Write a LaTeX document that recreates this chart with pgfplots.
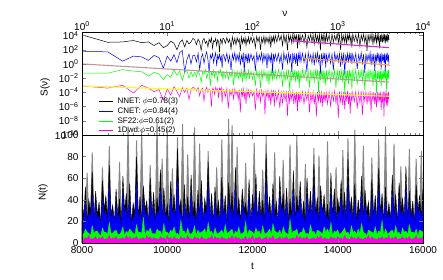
\documentclass[border=0pt]{standalone}
\usepackage{fontspec}
\setmainfont{Liberation Sans}
\usepackage{pgfplots}
\usepackage{pgfplotstable}
\pgfplotsset{compat=1.18}

\pgfplotstableread{
nu bk bl gr mg
1 4.1 1.8 -1.3 -3.1
2 3.05 1.7 -1.3 -3.4
3 3.1 0.4 -0.8 -3.0
4 3.3 1.1 -1.0 -4.1
5 3.0 1.0 -1.1 -3.0
6 3.1 0.5 -1.7 -3.4
7 2.6 1.2 -1.2 -3.9
8 3.0 0.9 -1.4 -3.6
9 2.3 -0.6 -2.2 -5.1
10 2.6 1.1 -1.5 -3.5
11 3.2 0.4 -1.9 -4.4
12 2.9 1.3 -0.8 -3.2
13 2.0 0.2 -1.6 -3.9
14 3.0 1.6 -1.0 -4.6
15 3.4 1.9 -2.3 -3.3
16 2.4 -1.1 -1.2 -4.0
17 3.3 0.6 -0.9 -3.4
18 2.8 1.4 -2.0 -5.0
19 3.1 0.0 -1.1 -3.6
20 3.6 1.2 -1.8 -3.3
21 3.4 1.2 -1.2 -3.4
22 2.7 0.3 -1.8 -3.8
23 3.5 1.5 -0.9 -3.3
24 3.1 -0.8 -1.5 -4.5
25 1.9 0.9 -2.6 -3.6
26 3.3 1.4 -1.1 -3.4
27 3.6 0.1 -1.4 -5.2
28 2.9 1.1 -0.8 -3.7
29 3.2 1.7 -2.0 -3.3
30 2.4 0.6 -1.3 -4.0
31 3.5 -1.2 -1.0 -3.5
32 3.0 1.3 -3.1 -3.9
33 3.7 0.8 -1.2 -6.0
34 2.2 1.5 -1.6 -3.4
35 3.3 0.2 -0.9 -3.6
36 3.1 1.0 -1.9 -4.3
37 3.6 1.6 -1.1 -3.3
38 2.6 -0.3 -1.4 -3.8
39 3.4 1.2 -2.4 -3.5
40 3.2 0.7 -1.0 -4.8
41 1.7 1.4 -1.3 -3.4
42 3.5 0.5 -0.8 -3.7
43 3.3 1.1 -1.7 -3.3
44 2.8 -0.6 -1.2 -5.5
45 3.6 1.3 -2.2 -3.6
46 3.6 1.3 -1.1 -3.6
48 2.9 0.4 -1.9 -4.6
50 3.7 1.5 -1.0 -3.5
52 3.0 0.2 -2.2 -6.3
54 3.5 1.2 -1.2 -3.7
56 2.1 -0.9 -1.8 -4.4
58 3.8 1.4 -0.9 -3.6
60 2.8 0.6 -3.0 -4.9
62 3.6 1.6 -1.1 -3.5
64 2.7 0.3 -1.9 -4.3
66 3.7 1.3 -1.0 -3.8
68 3.1 0.5 -2.1 -5.0
70 3.5 1.5 -1.2 -3.6
72 1.8 -0.2 -1.8 -6.8
74 3.8 1.2 -0.9 -3.7
76 2.9 0.4 -2.6 -4.5
78 3.6 1.6 -1.1 -3.5
80 3.0 -1.2 -1.9 -4.8
82 3.7 1.4 -1.0 -3.8
84 2.6 0.5 -2.3 -5.6
86 3.5 1.3 -1.2 -3.6
88 3.1 0.1 -1.7 -4.4
90 3.8 1.5 -0.9 -3.7
92 2.9 0.3 -2.0 -4.7
96 3.8 1.4 -1.0 -3.7
100 3.0 0.5 -2.2 -4.5
104 3.7 1.2 -1.1 -3.8
108 2.3 -1.0 -3.1 -6.5
112 3.9 1.5 -0.9 -3.6
116 3.1 0.4 -1.9 -4.9
120 3.8 1.3 -1.1 -3.8
124 2.0 0.6 -3.4 -5.3
128 3.7 1.6 -1.0 -3.7
132 3.0 0.2 -2.1 -4.6
136 3.9 1.4 -0.9 -3.9
140 2.8 0.5 -1.8 -7.1
144 3.8 1.3 -1.2 -3.8
148 3.1 -0.6 -2.4 -4.7
152 3.7 1.5 -1.0 -3.7
156 2.9 0.4 -2.9 -5.2
160 3.9 1.2 -1.1 -3.9
164 2.3 0.3 -1.9 -5.8
168 3.8 1.6 -0.9 -3.8
172 3.2 -1.3 -2.2 -4.6
176 3.9 1.4 -1.1 -3.7
180 3.0 0.5 -2.0 -6.0
185 4.0 1.4 -0.9 -3.9
193 3.1 0.4 -2.2 -5.2
201 4.1 1.5 -0.8 -3.8
209 3.3 0.2 -2.0 -6.2
217 4.0 1.3 -1.0 -4.0
225 2.6 -0.8 -3.2 -5.5
233 4.2 1.6 -0.9 -3.9
241 3.0 0.5 -2.4 -5.1
249 4.0 1.3 -1.0 -4.0
257 1.9 0.1 -2.1 -7.3
265 4.1 1.5 -0.8 -3.8
273 3.2 0.3 -3.8 -5.4
281 4.0 1.4 -1.0 -4.0
289 2.9 -1.2 -2.3 -5.0
297 4.2 1.6 -0.9 -3.9
305 3.1 0.4 -2.0 -5.7
313 4.1 1.3 -0.8 -4.1
321 3.4 0.0 -2.6 -5.3
329 4.0 1.5 -1.0 -3.9
337 2.2 -0.3 -2.2 -6.6
345 4.2 1.4 -0.9 -4.0
353 3.0 0.5 -3.4 -5.4
361 4.1 1.6 -1.0 -3.9
370 3.2 0.3 -2.3 -5.2
386 4.1 1.5 -0.8 -3.9
402 3.0 0.2 -2.0 -5.6
418 4.2 1.4 -1.0 -4.0
434 2.4 -1.1 -2.4 -5.1
450 4.0 1.6 -0.9 -3.8
466 3.3 0.5 -3.3 -6.8
482 4.2 1.3 -0.8 -4.0
498 3.1 0.1 -2.2 -5.3
514 4.1 1.5 -1.0 -3.9
530 2.8 -0.2 -2.5 -5.7
546 4.3 1.4 -0.9 -4.1
562 3.2 0.4 -2.0 -7.4
578 4.0 1.6 -0.8 -3.9
594 3.0 0.3 -4.0 -5.2
610 4.2 1.3 -1.0 -4.0
626 1.9 -1.4 -2.3 -5.5
642 4.1 1.5 -0.9 -3.8
658 3.3 0.2 -2.1 -6.0
674 4.2 1.4 -0.8 -4.0
690 3.0 0.5 -2.7 -5.4
706 4.0 1.6 -1.0 -3.9
722 3.1 -0.5 -3.0 -5.1
738 4.3 1.3 -0.9 -4.1
760 3.2 0.4 -2.2 -5.6
792 4.1 1.5 -0.8 -3.9
824 2.6 0.1 -2.5 -5.9
856 4.2 1.4 -1.0 -4.0
888 3.1 -0.9 -2.0 -5.2
920 4.0 1.6 -0.9 -3.8
952 3.3 0.5 -3.4 -5.5
984 4.3 1.3 -0.8 -4.0
1016 3.0 0.3 -2.3 -7.6
1048 4.1 1.5 -1.0 -3.9
1080 2.0 -0.4 -2.1 -5.3
1112 4.2 1.4 -0.9 -4.1
1144 3.2 0.2 -2.6 -5.8
1176 4.0 1.6 -0.8 -3.9
1208 3.0 -1.5 -4.2 -6.4
1240 4.2 1.3 -1.0 -4.0
1272 2.8 0.4 -2.2 -5.1
1304 4.1 1.5 -0.9 -3.8
1336 3.4 0.2 -2.8 -5.6
1368 4.3 1.4 -0.8 -4.1
1400 3.1 0.5 -2.0 -7.0
1432 4.0 1.6 -1.0 -3.9
1464 2.3 0.0 -3.6 -5.4
1500 4.2 1.4 -0.9 -4.0
1564 3.2 0.3 -2.3 -5.3
1628 4.1 1.5 -0.8 -3.9
1692 3.0 -0.7 -2.9 -6.3
1756 4.3 1.3 -1.0 -4.0
1820 2.5 0.4 -2.1 -5.5
1884 4.1 1.6 -0.9 -3.8
1948 3.3 0.1 -2.4 -7.2
2012 4.2 1.4 -0.8 -4.1
2076 3.0 -1.3 -3.7 -5.2
2140 4.0 1.5 -1.0 -3.9
2204 1.8 0.3 -2.2 -5.7
2268 4.2 1.3 -0.9 -4.0
2332 3.1 0.5 -2.5 -5.4
2396 4.1 1.6 -0.8 -3.8
2460 3.3 -0.2 -2.0 -6.8
2524 4.3 1.4 -1.0 -4.0
2588 2.7 0.2 -3.1 -5.3
2652 4.0 1.5 -0.9 -3.9
2716 3.2 -1.0 -2.3 -5.6
2780 4.2 1.3 -0.8 -4.1
2844 3.0 0.4 -4.1 -6.1
2908 4.1 1.6 -1.0 -3.9
2972 3.2 0.3 -2.2 -5.4
3036 4.2 1.5 -0.9 -4.0
3100 2.2 0.1 -2.4 -5.2
3164 4.1 1.4 -0.8 -3.9
3228 3.1 -0.8 -3.3 -6.5
3292 4.3 1.6 -1.0 -4.1
3356 3.0 0.4 -2.1 -5.5
3420 4.0 1.3 -0.9 -3.9
3484 3.3 0.2 -2.6 -7.4
3548 4.2 1.5 -0.8 -4.0
3612 2.9 -1.2 -2.0 -5.3
3676 4.1 1.4 -1.0 -3.8
3740 3.2 0.5 -3.9 -5.8
3804 4.3 1.6 -0.9 -4.1
3868 3.0 0.3 -2.3 -6.0
3932 4.1 1.3 -0.8 -3.9
3996 3.4 -0.3 -2.1 -5.0
}\topdata

\pgfplotstableread{
t gy bk bl gr mg
8000 20 45 32 10 6
8040 20 22 20 8 3
8080 20 52 38 13 5
8120 65 18 17 10 4
8160 20 40 27 9 7
8200 20 28 24 7 3
8240 84 66 44 16 4
8280 20 20 18 9 4
8320 20 48 35 11 6
8360 20 25 22 11 3
8400 20 38 25 8 5
8440 20 16 16 7 4
8480 70 58 41 14 6
8520 20 30 25 10 3
8560 20 44 30 10 4
8600 20 21 19 8 4
8640 90 72 52 19 7
8680 20 26 21 9 3
8720 20 35 28 9 5
8760 20 19 18 11 4
8800 20 50 36 12 6
8840 20 24 23 8 3
8880 75 41 26 8 4
8920 20 17 15 10 4
8960 20 62 47 15 5
9000 20 29 26 7 3
9040 20 46 33 11 7
9080 108 22 20 9 4
9120 20 55 39 13 6
9160 20 18 17 11 3
9200 20 37 24 9 5
9240 20 27 24 8 4
9280 95 80 55 17 6
9320 20 23 21 10 3
9360 20 43 31 10 4
9400 104 20 18 9 4
9440 20 53 40 24 5
9480 20 31 27 7 3
9520 20 39 27 12 7
9560 20 16 16 10 4
9600 72 60 43 14 6
9640 20 25 22 9 3
9680 20 47 34 9 5
9720 20 19 19 8 4
9760 112 42 29 13 4
9800 20 28 25 11 3
9840 20 68 49 11 6
9880 78 21 20 7 4
9920 20 51 37 18 5
9960 20 24 23 10 3
10000 106 36 26 10 7
10040 20 18 17 8 4
10080 20 57 45 12 5
10120 69 26 26 10 3
10160 20 45 32 15 6
10200 20 22 21 9 4
10240 98 88 58 9 4
10280 20 30 28 7 3
10320 20 40 28 21 6
10360 110 17 18 11 4
10400 20 54 38 11 5
10440 20 23 22 8 3
10480 82 43 30 14 7
10520 20 20 19 9 4
10560 20 63 46 8 4
10600 20 27 25 10 3
10640 107 38 25 16 6
10680 20 19 17 7 4
10720 20 49 36 12 5
10760 92 25 24 9 3
10800 20 58 42 10 6
10840 20 21 20 11 4
10880 20 41 29 13 4
10920 20 29 27 8 3
10960 85 75 53 19 5
11000 20 22 21 10 4
11040 20 46 33 11 7
11080 20 18 18 7 3
11120 20 52 39 14 6
11160 70 26 23 9 4
11200 20 39 27 9 5
11240 20 20 19 10 3
11280 96 61 44 12 6
11320 20 24 24 8 4
11360 20 44 31 17 4
11400 20 17 16 9 3
11440 115 56 40 10 5
11480 20 28 26 11 4
11520 109 47 34 13 7
11560 20 21 20 7 3
11600 20 70 50 11 6
11640 89 23 22 9 4
11680 20 42 28 15 5
11720 20 19 18 8 3
11760 20 50 37 9 4
11800 20 30 28 10 4
11840 74 37 26 20 6
11880 20 22 21 7 3
11920 20 59 43 12 5
11960 20 18 17 11 4
12000 20 45 32 10 7
12040 93 26 25 8 3
12080 20 64 47 14 5
12120 20 20 19 10 4
12160 20 48 35 11 6
12200 20 24 23 7 3
12240 68 40 29 16 4
12280 20 17 16 9 4
12320 99 83 56 9 6
12360 20 27 26 10 3
12400 20 43 30 13 5
12440 20 21 20 8 4
12480 20 55 41 18 7
12520 84 25 24 11 3
12560 20 38 27 10 4
12600 20 19 18 9 4
12640 20 62 45 12 6
12680 20 29 27 7 3
12720 77 46 33 15 5
12760 20 22 21 10 4
12800 20 51 38 9 6
12840 20 18 17 8 3
12880 91 41 28 22 4
12920 20 24 23 9 4
12960 20 67 48 11 5
13000 20 20 19 11 3
13040 100 44 31 13 7
13080 20 28 26 7 4
13120 20 57 42 10 6
13160 20 23 22 10 3
13200 20 39 27 14 5
13240 73 17 16 9 4
13280 20 60 44 9 6
13320 20 26 25 8 3
13360 20 48 35 17 4
13400 20 21 20 10 4
13440 88 73 51 11 5
13480 20 25 24 7 3
13520 20 42 30 12 6
13560 81 19 18 11 4
13600 20 53 39 10 7
13640 20 27 26 8 3
13680 20 45 33 15 5
13720 20 22 21 10 4
13760 94 36 25 13 4
13800 20 18 17 9 3
13840 20 65 46 19 6
13880 20 24 23 7 4
13920 20 50 36 11 5
13960 70 20 19 10 3
14000 20 41 29 12 6
14040 20 29 27 8 4
14080 20 58 42 9 5
14120 86 23 22 11 3
14160 20 47 34 14 7
14200 20 19 18 9 4
14240 97 78 54 10 4
14280 20 26 25 7 3
14320 20 43 31 16 6
14360 20 21 20 10 4
14400 105 55 40 11 5
14440 20 18 17 8 3
14480 20 40 28 13 6
14520 20 25 24 9 4
14560 20 62 45 18 4
14600 90 22 21 10 3
14640 20 49 35 9 5
14680 20 28 26 7 4
14720 20 38 26 12 7
14760 20 17 16 11 3
14800 79 59 43 10 6
14840 20 24 23 9 4
14880 20 44 32 15 4
14920 20 20 19 8 3
14960 96 69 49 11 5
15000 20 27 25 10 4
15040 20 46 33 21 6
15080 20 19 18 7 3
15120 108 52 38 13 5
15160 20 23 22 9 4
15200 20 37 27 9 7
15240 20 21 20 11 3
15280 20 63 46 12 5
15320 92 26 24 8 4
15360 20 45 32 16 6
15400 20 18 17 9 3
15440 20 56 41 10 4
15480 71 30 27 7 4
15520 20 41 29 14 6
15560 20 22 21 10 3
15600 20 71 52 11 5
15640 20 20 19 8 4
15680 87 48 35 17 6
15720 20 25 23 10 3
15760 20 39 28 10 4
15800 20 17 16 9 4
15840 78 54 39 13 7
15880 20 28 26 7 3
15920 20 44 31 12 5
15960 85 23 22 11 4
16000 20 50 36 10 6
}\botdata

\definecolor{cgray}{RGB}{135,135,135}
\definecolor{cblue}{RGB}{0,0,245}
\definecolor{cgreen}{RGB}{0,255,0}
\definecolor{cmag}{RGB}{255,0,230}
\definecolor{fitA}{RGB}{215,40,200}
\definecolor{fitB}{RGB}{255,160,40}
\definecolor{fitC}{RGB}{190,150,150}
\definecolor{fitD}{RGB}{255,255,0}

\begin{document}
\begin{tikzpicture}
\path[use as bounding box] (0,0) rectangle (443pt,280pt);
\begin{axis}[
  at={(82pt,145pt)}, anchor=south west, scale only axis,
  width=341pt, height=103pt,
  xmode=log, ymode=log,
  xmin=1, xmax=10000, ymin=1e-10, ymax=31622.8,
  xtick={1,10,100,1000,10000},
  xticklabels={10\textsuperscript{0},10\textsuperscript{1},10\textsuperscript{2},10\textsuperscript{3},10\textsuperscript{4}},
  xticklabel pos=right,
  xticklabel shift=-1.7pt,
  ytick={1e-10,1e-8,1e-6,1e-4,1e-2,1,1e2,1e4},
  yticklabels={10\textsuperscript{−10},10\textsuperscript{−8},10\textsuperscript{−6},10\textsuperscript{−4},10\textsuperscript{−2},10\textsuperscript{0},10\textsuperscript{2},10\textsuperscript{4}},
  yminorticks=false,
  tick align=inside, axis on top,
  major tick length=4pt, minor tick length=2pt,
  xlabel={ν}, xlabel style={at={(axis description cs:0.595,1.18)}, anchor=center},
  ylabel={S(ν)}, ylabel style={at={(axis description cs:-0.1085,0.466)}, anchor=center},
  legend cell align=left,
  legend style={at={(rel axis cs:0.045,0.39)}, anchor=north west, draw=none, fill=none,
    font=\fontsize{8}{8.5}\selectfont, row sep=-1.6pt, column sep=2pt, inner sep=1pt},
]
\addplot[color=black, line width=0.5pt, forget plot] table[x=nu, y expr=10^(\thisrow{bk})] {\topdata};
\addplot[color=cblue, line width=0.5pt, forget plot] table[x=nu, y expr=10^(\thisrow{bl})] {\topdata};
\addplot[color=cgreen, line width=0.5pt, forget plot] table[x=nu, y expr=10^(\thisrow{gr})] {\topdata};
\addplot[color=cmag, line width=0.5pt, forget plot] table[x=nu, y expr=10^(\thisrow{mg})] {\topdata};
\addplot[fitA, line width=1.1pt, forget plot] coordinates {(290,1778) (4000,199.5)};
\addplot[fitB, line width=1.1pt, forget plot] coordinates {(400,6.31) (4000,0.708)};
\addplot[fitC, line width=1.1pt, forget plot] coordinates {(1,1.0) (4000,0.00282)};
\addplot[fitD, line width=1.1pt, forget plot] coordinates {(1,7.94e-4) (4000,2.82e-5)};
\addlegendimage{legend image code/.code={\draw[black, line width=1pt] (0pt,0pt) -- (14pt,0pt);}}
\addlegendentry{NNET: $\phi$=0.78(3)}
\addlegendimage{legend image code/.code={\draw[cblue, line width=1pt] (0pt,0pt) -- (14pt,0pt);}}
\addlegendentry{CNET: $\phi$=0.84(4)}
\addlegendimage{legend image code/.code={\draw[cgreen, line width=1pt] (0pt,0pt) -- (14pt,0pt);}}
\addlegendentry{SF22:$\phi$=0.61(2)}
\addlegendimage{legend image code/.code={\draw[cmag, line width=1pt] (0pt,0pt) -- (14pt,0pt);}}
\addlegendentry{1Dwd:$\phi$=0.45(2)}
\end{axis}

\begin{axis}[
  at={(82pt,37pt)}, anchor=south west, scale only axis,
  width=341pt, height=108pt,
  xmin=8000, xmax=16000, ymin=0, ymax=100,
  xtick={8000,10000,12000,14000,16000},
  ytick={0,20,40,60,80,100},
  scaled x ticks=false,
  /pgf/number format/assume math mode=true,
  /pgf/number format/1000 sep={},
  tick align=inside, axis on top, clip=false,
  major tick length=4pt,
  xlabel={t}, xlabel style={at={(axis description cs:0.5,-0.213)}, anchor=center},
  ylabel={N(t)}, ylabel style={at={(axis description cs:-0.114,0.47)}, anchor=center},
]
\addplot[draw=cgray, fill=cgray, line width=0.9pt] table[x=t, y=gy] {\botdata} \closedcycle;
\addplot[draw=black, fill=black, line width=0.4pt] table[x=t, y=bk] {\botdata} \closedcycle;
\addplot[draw=cblue, fill=cblue, line width=0.3pt] table[x=t, y=bl] {\botdata} \closedcycle;
\addplot[draw=cgreen, fill=cgreen, line width=0.3pt] table[x=t, y=gr] {\botdata} \closedcycle;
\addplot[draw=cmag, fill=cmag, line width=0.3pt] table[x=t, y=mg] {\botdata} \closedcycle;
\end{axis}
\end{tikzpicture}
\end{document}
